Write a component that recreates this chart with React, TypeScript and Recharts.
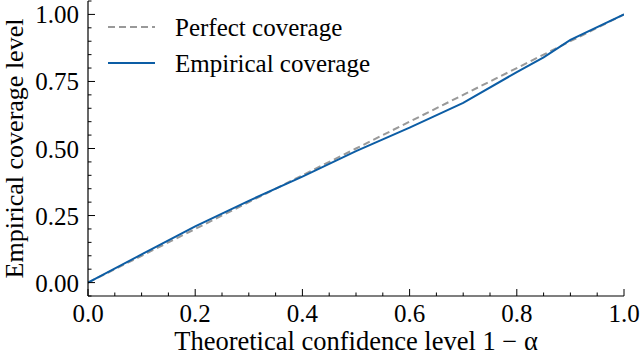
import React from 'react';
import { LineChart, Line, XAxis, YAxis } from 'recharts';

const confidenceLevels = [0, 0.1, 0.2, 0.3, 0.4, 0.5, 0.6, 0.7, 0.8, 0.85, 0.9, 1.0];
const empiricalCoverage = [0, 0.105, 0.21, 0.305, 0.395, 0.49, 0.578, 0.67, 0.785, 0.84, 0.905, 1.0];
const perfectCoverage = [0, 0.1, 0.2, 0.3, 0.4, 0.5, 0.6, 0.7, 0.8, 0.85, 0.9, 1.0];

const xMajorTicks = [0, 0.2, 0.4, 0.6, 0.8, 1.0];
const xAllTicks = [0, 0.05, 0.1, 0.15, 0.2, 0.25, 0.3, 0.35, 0.4, 0.45, 0.5, 0.55, 0.6, 0.65, 0.7, 0.75, 0.8, 0.85, 0.9, 0.95, 1.0];
const yMajorTicks = [0, 0.25, 0.5, 0.75, 1.0];
const yAllTicks = [-0.05, 0, 0.05, 0.1, 0.15, 0.2, 0.25, 0.3, 0.35, 0.4, 0.45, 0.5, 0.55, 0.6, 0.65, 0.7, 0.75, 0.8, 0.85, 0.9, 0.95, 1.0, 1.05];

const seriesNames = ['Perfect coverage', 'Empirical coverage'];

const data = confidenceLevels.map((c, i) => ({
  x: c,
  perfect: perfectCoverage[i],
  empirical: empiricalCoverage[i],
}));

const FONT = '"Liberation Serif", "DejaVu Serif", serif';
const FS = 25;

const isMajor = (v: number, majors: number[]) => majors.some((m) => Math.abs(m - v) < 1e-6);

const BottomTick = (props: any) => {
  const { x, y, payload } = props;
  const major = isMajor(payload.value, xMajorTicks);
  return (
    <g>
      <line x1={x} x2={x} y1={y} y2={y - (major ? 7 : 3.5)} stroke="#000" strokeWidth={1} />
      {major && (
        <text x={x} y={y + 26} textAnchor="middle" fontFamily={FONT} fontSize={FS} fill="#000">
          {payload.value.toFixed(1)}
        </text>
      )}
    </g>
  );
};

const TopTick = (props: any) => {
  const { x, y, payload } = props;
  const major = isMajor(payload.value, xMajorTicks);
  return <line x1={x} x2={x} y1={y} y2={y + (major ? 7 : 3.5)} stroke="#000" strokeWidth={1} />;
};

const LeftTick = (props: any) => {
  const { x, y, payload } = props;
  const major = isMajor(payload.value, yMajorTicks);
  return (
    <g>
      <line x1={x} x2={x + (major ? 7 : 3.5)} y1={y} y2={y} stroke="#000" strokeWidth={1} />
      {major && (
        <text x={x - 9} y={y + 9} textAnchor="end" fontFamily={FONT} fontSize={FS} fill="#000">
          {payload.value.toFixed(2)}
        </text>
      )}
    </g>
  );
};

const RightTick = (props: any) => {
  const { x, y, payload } = props;
  const major = isMajor(payload.value, yMajorTicks);
  return <line x1={x} x2={x - (major ? 7 : 3.5)} y1={y} y2={y} stroke="#000" strokeWidth={1} />;
};

const LegendOverlay = () => (
  <svg width={300} height={80} style={{ position: 'absolute', left: 108, top: 12, overflow: 'visible' }}>
    <line x1={0} x2={47} y1={15} y2={15} stroke="#999999" strokeWidth={2} strokeDasharray="7 4" />
    <text x={67} y={24} fontFamily={FONT} fontSize={FS} fill="#000">{seriesNames[0]}</text>
    <line x1={0} x2={47} y1={51} y2={51} stroke="#0C5DA5" strokeWidth={2} />
    <text x={67} y={60} fontFamily={FONT} fontSize={FS} fill="#000">{seriesNames[1]}</text>
  </svg>
);

export default function App() {
  return (
    <div style={{ position: 'absolute', left: 0, top: 0, width: 640, height: 357, background: '#fff' }}>
      <LineChart width={640} height={357} data={data} margin={{ top: 1, right: 16, bottom: 0, left: 0 }}>
        <XAxis
          xAxisId="bottom"
          dataKey="x"
          type="number"
          domain={[0, 1]}
          ticks={xAllTicks}
          interval={0}
          tickSize={0}
          tickMargin={0}
          tickLine={false}
          tick={<BottomTick />}
          axisLine={{ stroke: '#000', strokeWidth: 1.2 }}
          height={61}
          allowDataOverflow
          label={{ value: 'Theoretical confidence level 1 − α', position: 'insideBottom', offset: 7, fontFamily: FONT, fontSize: 26.5, fill: '#000' }}
        />
        <XAxis
          xAxisId="top"
          orientation="top"
          dataKey="x"
          type="number"
          domain={[0, 1]}
          ticks={xAllTicks}
          interval={0}
          tickSize={0}
          tickMargin={0}
          tickLine={false}
          tick={<TopTick />}
          axisLine={{ stroke: '#000', strokeWidth: 1.2 }}
          height={0}
          allowDataOverflow
        />
        <YAxis
          yAxisId="left"
          type="number"
          domain={[-0.05, 1.05]}
          ticks={yAllTicks}
          interval={0}
          tickSize={0}
          tickMargin={0}
          tickLine={false}
          tick={<LeftTick />}
          axisLine={{ stroke: '#000', strokeWidth: 1.2 }}
          width={88}
          allowDataOverflow
          label={{ value: 'Empirical coverage level', angle: -90, position: 'insideLeft', offset: 14, style: { textAnchor: 'middle' }, fontFamily: FONT, fontSize: 26, fill: '#000' }}
        />
        <YAxis
          yAxisId="right"
          orientation="right"
          type="number"
          domain={[-0.05, 1.05]}
          ticks={yAllTicks}
          interval={0}
          tickSize={0}
          tickMargin={0}
          tickLine={false}
          tick={<RightTick />}
          axisLine={{ stroke: '#000', strokeWidth: 1.2 }}
          width={0}
          allowDataOverflow
        />
        <Line
          xAxisId="bottom"
          yAxisId="left"
          dataKey="perfect"
          name={seriesNames[0]}
          type="linear"
          stroke="#999999"
          strokeWidth={2}
          strokeDasharray="7 4"
          dot={false}
          isAnimationActive={false}
        />
        <Line
          xAxisId="bottom"
          yAxisId="left"
          dataKey="empirical"
          name={seriesNames[1]}
          type="linear"
          stroke="#0C5DA5"
          strokeWidth={2}
          dot={false}
          isAnimationActive={false}
        />
      </LineChart>
      <LegendOverlay />
    </div>
  );
}
